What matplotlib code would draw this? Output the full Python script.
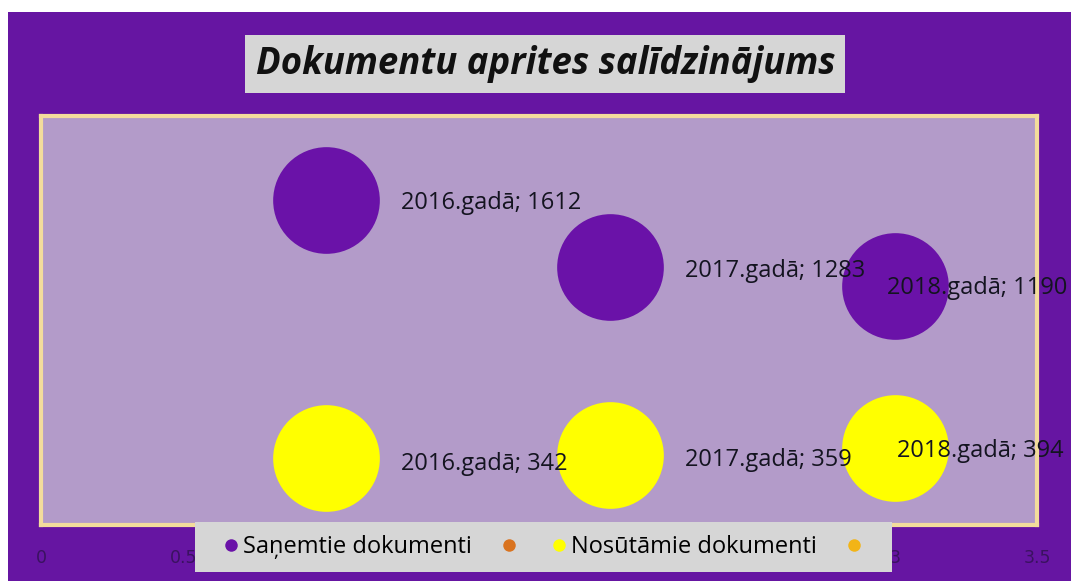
import matplotlib.pyplot as plt
from matplotlib.patches import Rectangle
from matplotlib.lines import Line2D

# data
years = ["2016.gadā", "2017.gadā", "2018.gadā"]
x_pos = [1, 2, 3]
sanemtie = [1612, 1283, 1190]
nosutamie = [342, 359, 394]
series_names = ["Saņemtie dokumenti", "", "Nosūtāmie dokumenti", ""]
series_colors = ["#6a12a8", "#d9731f", "#ffff00", "#f2b417"]
x_ticks = [0, 0.5, 1, 1.5, 2, 2.5, 3, 3.5]
# ticks 1..2.5 sit behind the legend box in the original
x_tick_labels = ["0", "0.5", "", "", "", "", "3", "3.5"]

W, H = 1071, 581
fig = plt.figure(figsize=(W / 100, H / 100), dpi=100)
fig.patch.set_facecolor("white")

def px_rect(x0, y0, x1, y1, **kw):
    # rectangle given in pixel coords (origin top-left)
    r = Rectangle((x0 / W, 1 - y1 / H), (x1 - x0) / W, (y1 - y0) / H,
                  transform=fig.transFigure, **kw)
    fig.add_artist(r)
    return r

# outer purple chart area
px_rect(8, 12, W + 2, H + 2, facecolor="#6615a2", edgecolor="none", zorder=0)

# plot area
ax = fig.add_axes([41 / W, 1 - 525 / H, (1037 - 41) / W, (525 - 116) / H])
ax.set_facecolor("#b39bc9")
for s in ax.spines.values():
    s.set_edgecolor("#f3dc9c")
    s.set_linewidth(3)

ax.scatter(x_pos, sanemtie, s=5900, color=series_colors[0], zorder=3, linewidths=0)
ax.scatter(x_pos, nosutamie, s=5900, color=series_colors[2], zorder=3, linewidths=0)

# label offsets (points) per bubble
off_top = [(54, -6.5), (54, -7), (-5.5, -6)]
off_bot = [(54, -8.5), (54, -8), (2, -6.5)]
lab_font = dict(family="Open Sans", fontsize=17, color="#141420")
for i in range(3):
    ax.annotate(f"{years[i]}; {sanemtie[i]}", (x_pos[i], sanemtie[i]),
                xytext=off_top[i], textcoords="offset points",
                va="baseline", ha="left", zorder=5, annotation_clip=False, **lab_font)
    ax.annotate(f"{years[i]}; {nosutamie[i]}", (x_pos[i], nosutamie[i]),
                xytext=off_bot[i], textcoords="offset points",
                va="baseline", ha="left", zorder=5, annotation_clip=False, **lab_font)

ax.set_xlim(0, 3.5)
ax.set_ylim(15, 2025)
ax.set_xticks(x_ticks)
ax.set_xticklabels(x_tick_labels)
ax.tick_params(axis="x", length=0, pad=17, labelsize=12.5, labelcolor="#3a1260")
ax.set_yticks([])

# title box
px_rect(245, 35, 845, 93, facecolor="#d6d6d6", edgecolor="none", zorder=2)
fig.text(546 / W, 1 - 64 / H, "Dokumentu aprites salīdzinājums",
         ha="center", va="center", fontsize=26.3, fontweight="bold", fontstyle="italic",
         family="Open Sans", color="#111111", zorder=3)

# legend box
px_rect(195, 522, 892, 572, facecolor="#d6d6d6", edgecolor="none", zorder=4)
handles = [Line2D([], [], marker="o", linestyle="none", markersize=9,
                  markerfacecolor=c, markeredgecolor="none") for c in series_colors]
leg = fig.legend(handles, series_names, loc="center", ncol=4,
                 bbox_to_anchor=(545 / W, 1 - 547 / H), frameon=False,
                 prop={"family": "Open Sans", "size": 17},
                 handlelength=0.6, handletextpad=0.2, columnspacing=1.3)
leg.set_zorder(5)

fig.savefig("out.png", dpi=100)
